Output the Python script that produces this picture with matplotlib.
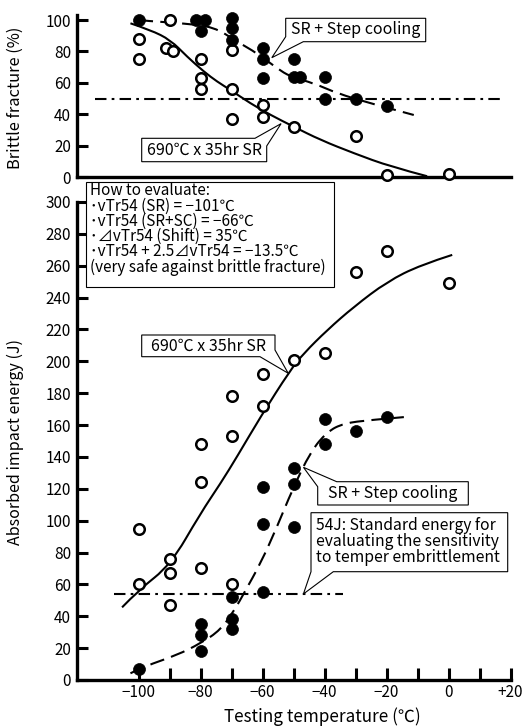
import matplotlib
matplotlib.use("Agg")
import matplotlib.pyplot as plt
from matplotlib.path import Path
from matplotlib.patches import PathPatch, Polygon
from matplotlib.transforms import IdentityTransform

plt.rcParams['font.family'] = ['Noto Sans CJK JP', 'DejaVu Sans']

# ---------------- data ----------------
# Brittle fracture (%) -- SR only (open) and SR + step cooling (filled)
bf_sr_t = [-100, -100, -90, -91, -89, -80, -80, -80, -70, -70, -70, -60, -60, -50, -30, -20, 0]
bf_sr_v = [88, 75, 100, 82, 80, 75, 63, 56, 81, 56, 37, 46, 38, 32, 26, 1, 2]
bf_sc_t = [-100, -81.5, -78.5, -80, -70, -70, -70, -60, -60, -60, -50, -50, -48, -40, -40, -30, -20]
bf_sc_v = [100, 100, 100, 93, 101, 95, 87, 82, 75, 63, 75, 64, 64, 64, 50, 50, 45]

# Fitted transition curves, brittle fracture
bf_sr_curve_t = [-102.6, -96.1, -89.7, -84.3, -78.9, -74.6, -70.3, -63.9, -57.4, -49.9, -41.3, -30.5, -18.7, -6.9]
bf_sr_curve_v = [97.9, 93.6, 87.3, 76.6, 67.1, 60.7, 55.4, 46.9, 39.5, 32.0, 23.6, 15.1, 6.6, 0.5]
bf_sc_curve_t = [-100, -97.2, -85.9, -75.7, -68.2, -61.7, -55.3, -51, -43.4, -35.9, -25.2, -11.2]
bf_sc_curve_v = [100, 99.4, 97.9, 95.7, 86.2, 78.8, 69.2, 63.9, 59.7, 53.3, 46.9, 39.5]

# Absorbed impact energy (J)
ae_sr_t = [-100, -100, -90, -90, -90, -80, -80, -80, -70, -70, -70, -60, -60, -50, -40, -30, -20, 0]
ae_sr_e = [95, 60, 76, 67, 47, 148, 124, 70, 178, 153, 60, 192, 172, 201, 205, 256, 269, 249]
ae_sc_t = [-100, -80, -80, -80, -70, -70, -70, -60, -60, -60, -50, -50, -50, -40, -40, -30, -20]
ae_sc_e = [7, 35, 28, 18, 52, 38, 32, 121, 98, 55, 133, 123, 96, 164, 148, 156, 165]

# Fitted transition curves, absorbed energy
ae_sr_curve_t = [-105.3, -99.9, -89.7, -80, -73.5, -68.2, -60.6, -51, -46.7, -39.1, -30.5, -19.8, -9, 1.2]
ae_sr_curve_e = [45.6, 56.5, 72.2, 104.6, 123.5, 140.2, 165.3, 194.6, 205, 219.7, 234.3, 250, 260.5, 266.8]
ae_sc_curve_t = [-102.6, -98.3, -87.5, -80, -73.5, -68.7, -66, -60.6, -55.3, -50.4, -44.5, -39.1, -33.8, -25.2, -14.4]
ae_sc_curve_e = [4.2, 8.4, 15.7, 23, 31.4, 45, 54.4, 73.3, 96.2, 119.3, 143.3, 155.9, 161.1, 163.2, 165]

bf_ref_level = 50      # 50 % brittle fracture
bf_ref_span = [-114, 17]
ae_ref_level = 54      # 54 J standard energy
ae_ref_span = [-108, -34]

x_ticks = list(range(-100, 21, 10))
x_labels = ['−100', '', '−80', '', '−60', '', '−40', '', '−20', '', '0', '', '+20']
bf_ticks = list(range(0, 101, 20))
ae_ticks = list(range(0, 301, 20))

evaluation_lines = [
    "How to evaluate:",
    "･vTr54 (SR) = −101℃",
    "･vTr54 (SR+SC) = −66℃",
    "･⊿vTr54 (Shift) = 35℃",
    "･vTr54 + 2.5⊿vTr54 = −13.5℃",
    "(very safe against brittle fracture)",
]
energy_note = ["54J: Standard energy for",
               "evaluating the sensitivity",
               "to temper embrittlement"]

# ---------------- figure ----------------
W, H = 522, 726
fig = plt.figure(figsize=(W / 100, H / 100), dpi=100)


def axes_px(x0, y0, x1, y1):
    return fig.add_axes([x0 / W, 1 - y1 / H, (x1 - x0) / W, (y1 - y0) / H])


ax1 = axes_px(76.5, 15.3, 510.5, 177)
ax2 = axes_px(76.5, 202, 510.5, 680)

TICK_FS = 11
for ax in (ax1, ax2):
    ax.set_xlim(-120, 20)
    for s in ('top', 'right'):
        ax.spines[s].set_visible(False)
    for s in ('left', 'bottom'):
        ax.spines[s].set_linewidth(2.4)
    ax.tick_params(axis='y', direction='in', length=8, width=2.2,
                   labelsize=TICK_FS, pad=4)
    ax.patch.set_visible(False)

ax1.set_ylim(0, 103)
ax1.set_yticks(bf_ticks)
ax1.set_xticks([])

ax2.set_ylim(0, 300)
ax2.set_yticks(ae_ticks)
ax2.set_xticks(x_ticks)
ax2.set_xticklabels(x_labels)
ax2.tick_params(axis='x', direction='in', length=8.5, width=2.2,
                labelsize=TICK_FS, pad=3)


def smooth_curve(ax, xs, ys, **kw):
    pts = list(zip(xs, ys))
    verts = [pts[0]]
    codes = [Path.MOVETO]
    for i in range(1, len(pts) - 1):
        p, q = pts[i], pts[i + 1]
        end = q if i == len(pts) - 2 else ((p[0] + q[0]) / 2, (p[1] + q[1]) / 2)
        verts += [p, end]
        codes += [Path.CURVE3, Path.CURVE3]
    ax.add_patch(PathPatch(Path(verts, codes), fill=False, ec='black',
                           capstyle='butt', **kw))


DASH = (0, (7, 3.5))
DASHDOT = (0, (5.5, 2.5, 1.3, 2.5))

smooth_curve(ax1, bf_sr_curve_t, bf_sr_curve_v, lw=1.5, zorder=2)
smooth_curve(ax1, bf_sc_curve_t, bf_sc_curve_v, lw=1.5, ls=DASH, zorder=2)
ax1.plot(bf_ref_span, [bf_ref_level] * 2, color='black', lw=1.5, ls=DASHDOT, zorder=1)

smooth_curve(ax2, ae_sr_curve_t, ae_sr_curve_e, lw=1.5, zorder=2)
smooth_curve(ax2, ae_sc_curve_t, ae_sc_curve_e, lw=1.5, ls=DASH, zorder=2)
ax2.plot(ae_ref_span, [ae_ref_level] * 2, color='black', lw=1.5, ls=DASHDOT, zorder=1)

open_kw = dict(ls='none', marker='o', ms=7.6, mfc='white', mec='black', mew=1.8,
               clip_on=False, zorder=4)
filled_kw = dict(ls='none', marker='o', ms=8.6, mfc='black', mec='black', mew=0.5,
                 clip_on=False, zorder=5)
ax1.plot(bf_sr_t, bf_sr_v, **open_kw)
ax1.plot(bf_sc_t, bf_sc_v, **filled_kw)
ax2.plot(ae_sr_t, ae_sr_e, **open_kw)
ax2.plot(ae_sc_t, ae_sc_e, **filled_kw)

# ---------------- call-out boxes ----------------
BOX_FS = 11.5
NOTE_FS = 11


def callout(ax, outline, tip):
    """outline: box corners in pixel coords (top-left origin), None marks the tail tip."""
    tx, ty = ax.transData.transform(tip)
    verts = []
    for v in outline:
        if v is None:
            verts.append((tx, ty))
        else:
            verts.append((v[0], H - v[1]))
    fig.add_artist(Polygon(verts, closed=True, fc='white', ec='black', lw=0.8,
                           transform=IdentityTransform(), zorder=6))


def label(x, y, s, ha='center', fs=BOX_FS, va='center', **kw):
    fig.text(x / W, 1 - y / H, s, ha=ha, va=va, fontsize=fs, zorder=7, **kw)


fig.canvas.draw()

callout(ax1, [(285.7, 18.3), (425.7, 18.3), (425.7, 41.7), (303.3, 41.7), None,
              (285.7, 36.7)], (-57, 76))
label(355.7, 30, "SR + Step cooling")

callout(ax1, [(141.7, 138.3), (255, 138.3), None, (266.7, 146), (266.7, 161.7),
              (141.7, 161.7)], (-54, 34))
label(204.2, 150, "690℃ x 35hr SR")

callout(ax2, [(141.7, 335), (275, 335), (275, 350), None, (260, 356.7),
              (141.7, 356.7)], (-51.7, 192.5))
label(208.3, 345.8, "690℃ x 35hr SR")

callout(ax2, [(317.7, 486.7), None, (336.7, 481.7), (468.3, 481.7), (468.3, 505),
              (317.7, 505)], (-46.8, 133.5))
label(393, 493.3, "SR + Step cooling")

callout(ax2, [(311, 512.7), (507.7, 512.7), (507.7, 571.7), (333.3, 571.7), None,
              (311, 571.7)], (-46.8, ae_ref_level))
label(316.5, 541.5, "\n".join(energy_note), ha='left', fs=11.3, linespacing=0.92)

fig.add_artist(Polygon([(86, H - 182), (334, H - 182), (334, H - 287), (86, H - 287)],
                       closed=True, fc='white', ec='black', lw=0.8,
                       transform=IdentityTransform(), zorder=6))
label(90, 229, "\n".join(evaluation_lines), ha='left', fs=NOTE_FS, linespacing=0.86)

# ---------------- axis titles ----------------
fig.text(15 / W, 1 - 98 / H, "Brittle fracture (%)", rotation=90,
         ha='center', va='center', fontsize=11.8)
fig.text(15 / W, 1 - 442 / H, "Absorbed impact energy (J)", rotation=90,
         ha='center', va='center', fontsize=11.5)
fig.text(322 / W, 1 - 717 / H, "Testing temperature (℃)",
         ha='center', va='center', fontsize=12.3)

fig.savefig("out.png", dpi=100)
